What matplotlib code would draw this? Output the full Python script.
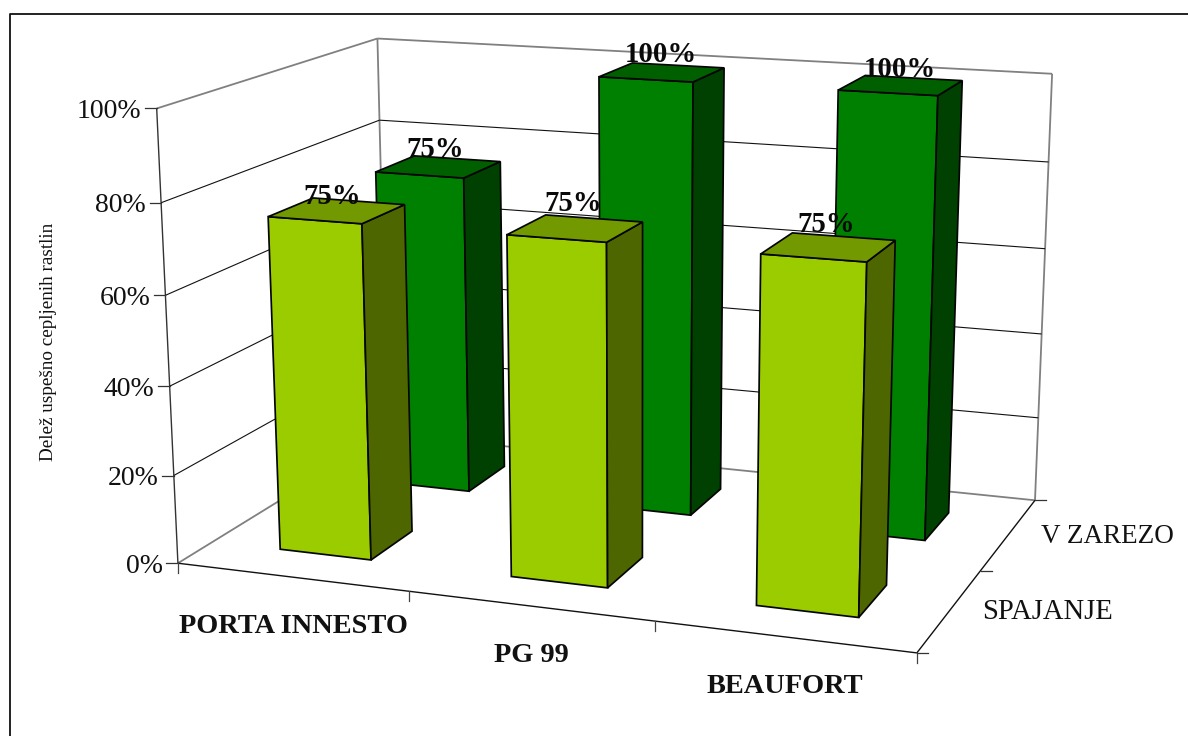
import numpy as np
import matplotlib
matplotlib.use("Agg")
import matplotlib.pyplot as plt
from matplotlib.collections import PolyCollection

plt.rcParams['font.family'] = ['Liberation Serif', 'DejaVu Serif']

categories = ['PORTA INNESTO', 'PG 99', 'BEAUFORT']
series_names = ['SPAJANJE', 'V ZAREZO']
spajanje = [75, 75, 75]
v_zarezo = [75, 100, 100]
z_ticks = [0, 20, 40, 60, 80, 100]
y_title = 'Delež uspešno cepljenih rastlin'

# Face shades per series: front, side, top
shades = [('#9BCC00', '#4D6600', '#739900'),
          ('#008000', '#004000', '#006000')]
BAR_MARGIN = 0.3   # gap on each side of a bar within its unit cell

# Hand placement of the value labels, pixels from the bar top centre
label_shift = {0: [(-5, -14), (-2, -25), (-2, -23)],
               1: [(-3, -17), (-1, -18), (-1, -16)]}
series_size = [20.6, 19.5]

# Perspective camera solved from box corners (category, series, share) -> canvas pixels
box = np.array([(0,0,0),(3,0,0),(3,2,0),(0,0,1),(0,2,1),(3,2,1),(0,0,.2),(0,0,.8),
                (0,2,.8),(3,2,.8),(1,0,0),(2,0,0),(3,1,0)], float)
canvas = np.array([(178,563.5),(916.7,652.7),(1035,500.3),(156.7,108.3),(376.7,38.7),
                   (1052.7,74),(174,475),(161.3,202.7),(380,120),(1048,162),
                   (409.3,591.7),(655,621.7),(981,570)], float)
rows = []
for (X, Y, Z), (u, v) in zip(box, canvas):
    rows.append([X, Y, Z, 1, 0, 0, 0, 0, -u*X, -u*Y, -u*Z, -u])
    rows.append([0, 0, 0, 0, X, Y, Z, 1, -v*X, -v*Y, -v*Z, -v])
P = np.linalg.svd(np.array(rows))[2][-1].reshape(3, 4)


def proj(x, y, z):
    h = P @ np.array([x, y, z, 1.0])
    return h[0]/h[2], h[1]/h[2]


fig = plt.figure(figsize=(11.88, 7.36), dpi=100)
ax = fig.add_axes([0, 0, 1, 1])
ax.set_xlim(0, 1188)
ax.set_ylim(736, 0)
ax.axis('off')


def seg(a, b, color, lw, z=1):
    (x0, y0), (x1, y1) = proj(*a), proj(*b)
    ax.plot([x0, x1], [y0, y1], color=color, lw=lw, zorder=z, solid_capstyle='butt')


# Outer frame: only the top and left edges fall inside the canvas
ax.plot([9.5, 9.5, 1188], [736, 14, 14], color='#111111', lw=1.3, zorder=0)

GREY = '#808080'
nx, ny = len(categories), len(series_names)

# Walls and floor outline
seg((0, 0, 1), (0, ny, 1), GREY, 1.3)
seg((0, ny, 1), (nx, ny, 1), GREY, 1.3)
seg((0, ny, 0), (0, ny, 1), GREY, 1.3)
seg((nx, ny, 0), (nx, ny, 1), GREY, 1.3)
seg((0, 0, 0), (0, ny, 0), GREY, 1.3)
seg((0, ny, 0), (nx, ny, 0), GREY, 1.3)
seg((0, 0, 0), (nx, 0, 0), '#111111', 1.0)
seg((nx, 0, 0), (nx, ny, 0), '#111111', 1.0)
seg((0, 0, 0), (0, 0, 1), '#333333', 1.0)

# Gridlines on side and back walls
for t in z_ticks[1:-1]:
    z = t/100
    seg((0, 0, z), (0, ny, z), '#111111', 0.8)
    seg((0, ny, z), (nx, ny, z), '#111111', 0.8)

# Tick marks and tick labels
for t in z_ticks:
    u, v = proj(0, 0, t/100)
    ax.plot([u-11.5, u], [v, v], color='#333333', lw=0.9, zorder=1)
    ax.text(u-15, v+3, f'{t}%', ha='right', va='center', fontsize=20, color='#111111')
for i in range(nx+1):
    u, v = proj(i, 0, 0)
    ax.plot([u, u], [v, v+10], color='#444444', lw=0.9, zorder=1)
for j in range(ny+1):
    u, v = proj(nx, j, 0)
    ax.plot([u, u+11], [v, v], color='#333333', lw=0.9, zorder=1)

for i, name in enumerate(categories):
    u, v = proj(i+.5, 0, 0)
    ax.text(u+1, v+49.5, name, ha='center', va='center', fontsize=20.4, fontweight='bold', color='#111111')
for j, name in enumerate(series_names):
    u, v = proj(nx, j+.5, 0)
    ax.text(u+32, v+2, name, ha='left', va='center', fontsize=series_size[j], color='#111111')

ax.text(49, 341.5, y_title, rotation=90, ha='center', va='center', fontsize=13.8, color='#111111')

# Bars, back row first so the front row paints over it
zo = 5
for j, values in reversed(list(enumerate([spajanje, v_zarezo]))):
    front, side, top = shades[j]
    for i, val in enumerate(values):
        x0, x1 = i+BAR_MARGIN, i+1-BAR_MARGIN
        y0, y1 = j+BAR_MARGIN, j+1-BAR_MARGIN
        h = val/100
        faces = [[(x0, y0, 0), (x1, y0, 0), (x1, y0, h), (x0, y0, h)],
                 [(x1, y0, 0), (x1, y1, 0), (x1, y1, h), (x1, y0, h)],
                 [(x0, y0, h), (x1, y0, h), (x1, y1, h), (x0, y1, h)]]
        polys = [[proj(*p) for p in f] for f in faces]
        ax.add_collection(PolyCollection(polys, facecolors=[front, side, top],
                                         edgecolors='#050505', linewidths=1.25,
                                         joinstyle='miter', zorder=zo))
        zo += 1

# Value labels above all bars
for j, values in enumerate([spajanje, v_zarezo]):
    for i, val in enumerate(values):
        u, v = proj(i+.5, j+.5, val/100)
        dx, dy = label_shift[j][i]
        ax.text(u+dx, v+dy, f'{val}%', ha='center', va='center', fontsize=20.7,
                fontweight='bold', color='#0a0a0a', zorder=50)

fig.savefig('out.png', dpi=100)
